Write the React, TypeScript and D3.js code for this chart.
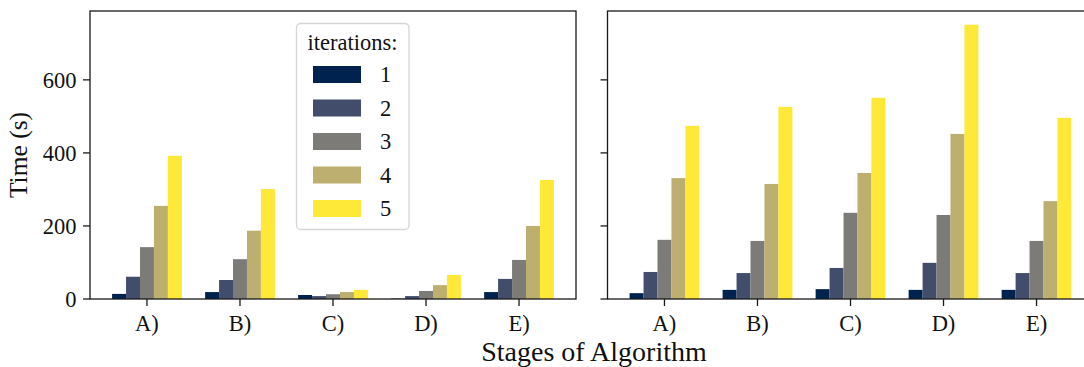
import React from "react";
import * as d3 from "d3";

const stages = ["A)", "B)", "C)", "D)", "E)"];
const iterations = ["1", "2", "3", "4", "5"];
const colors = ["#00224e", "#414d6b", "#7c7b78", "#bcaf6f", "#fee838"];

// values[iteration][stage]
const leftValues = [
  [14, 19, 11, 1, 19],
  [61, 52, 8, 8, 55],
  [142, 109, 13, 22, 107],
  [255, 187, 19, 38, 200],
  [392, 301, 25, 66, 326],
];
const rightValues = [
  [16, 25, 27, 25, 25],
  [74, 71, 85, 99, 71],
  [162, 159, 236, 230, 159],
  [331, 315, 345, 452, 268],
  [474, 526, 551, 751, 496],
];
const yTicks = [0, 200, 400, 600];

const W = 1084;
const H = 367;
const top = 11;
const bottom = 299;
const panelW = 486;
const panels = [
  { x0: 90, values: leftValues, labels: true },
  { x0: 607.5, values: rightValues, labels: false },
];
const FONT = "Liberation Serif, Times New Roman, Times, DejaVu Serif, serif";
const spine = "#1a1a1a";
const tf = { fontFamily: FONT };
const TICK_FS = 22.5;

export default function App() {
  const maxV = d3.max([...leftValues.flat(), ...rightValues.flat()]) as number;
  const y = d3.scaleLinear().domain([0, maxV * 1.05]).range([bottom, top]);

  return (
    <svg
      width={W}
      height={H}
      style={{ position: "absolute", left: 0, top: 0, background: "#fff", fontFamily: FONT }}
    >
      <rect x={0} y={0} width={W} height={H} fill="#fff" />
      {panels.map((p, pi) => {
        const x = d3
          .scaleBand<string>()
          .domain(stages)
          .range([p.x0, p.x0 + panelW])
          .paddingInner(0.25)
          .paddingOuter(0.2375);
        const xi = d3.scaleBand<string>().domain(iterations).range([0, x.bandwidth()]);
        return (
          <g key={pi}>
            {p.values.map((series, si) =>
              series.map((v, ci) => (
                <rect
                  key={`${si}-${ci}`}
                  x={(x(stages[ci]) as number) + (xi(iterations[si]) as number)}
                  y={y(v)}
                  width={xi.bandwidth()}
                  height={bottom - y(v)}
                  fill={colors[si]}
                />
              ))
            )}
            <rect
              x={p.x0}
              y={top}
              width={panelW}
              height={bottom - top}
              fill="none"
              stroke={spine}
              strokeWidth={1.3}
            />
            {yTicks.map((t) => (
              <g key={t}>
                <line x1={p.x0 - 7} x2={p.x0} y1={y(t)} y2={y(t)} stroke={spine} strokeWidth={1.3} />
                {p.labels && (
                  <text
                    x={p.x0 - 13.5}
                    y={y(t)}
                    dy="0.34em"
                    textAnchor="end"
                    fontSize={TICK_FS}
                    fill="#111"
                    style={tf}
                  >
                    {t}
                  </text>
                )}
              </g>
            ))}
            {stages.map((s) => {
              const cx = (x(s) as number) + x.bandwidth() / 2;
              return (
                <g key={s}>
                  <line x1={cx} x2={cx} y1={bottom} y2={bottom + 7} stroke={spine} strokeWidth={1.3} />
                  <text x={cx} y={331} textAnchor="middle" fontSize={TICK_FS} fill="#111" style={tf}>
                    {s}
                  </text>
                </g>
              );
            })}
          </g>
        );
      })}
      <text
        transform={`translate(27,${(top + bottom) / 2}) rotate(-90)`}
        textAnchor="middle"
        fontSize={25.5}
        fill="#111"
        style={tf}
      >
        Time (s)
      </text>
      <text x={594} y={361} textAnchor="middle" fontSize={28} fill="#111" style={tf}>
        Stages of Algorithm
      </text>
      <g>
        <rect
          x={296.5}
          y={23.5}
          width={112.5}
          height={206}
          rx={4}
          fill="#fff"
          fillOpacity={0.8}
          stroke="#d6d6d6"
          strokeWidth={1.3}
        />
        <text x={352.5} y={50} textAnchor="middle" fontSize={TICK_FS} fill="#111" style={tf}>
          iterations:
        </text>
        {iterations.map((it, i) => {
          const cy = 74.5 + i * 33.5;
          return (
            <g key={it}>
              <rect x={313} y={cy - 8.5} width={48} height={17} fill={colors[i]} />
              <text x={380} y={cy} dy="0.34em" fontSize={TICK_FS} fill="#111" style={tf}>
                {it}
              </text>
            </g>
          );
        })}
      </g>
    </svg>
  );
}
